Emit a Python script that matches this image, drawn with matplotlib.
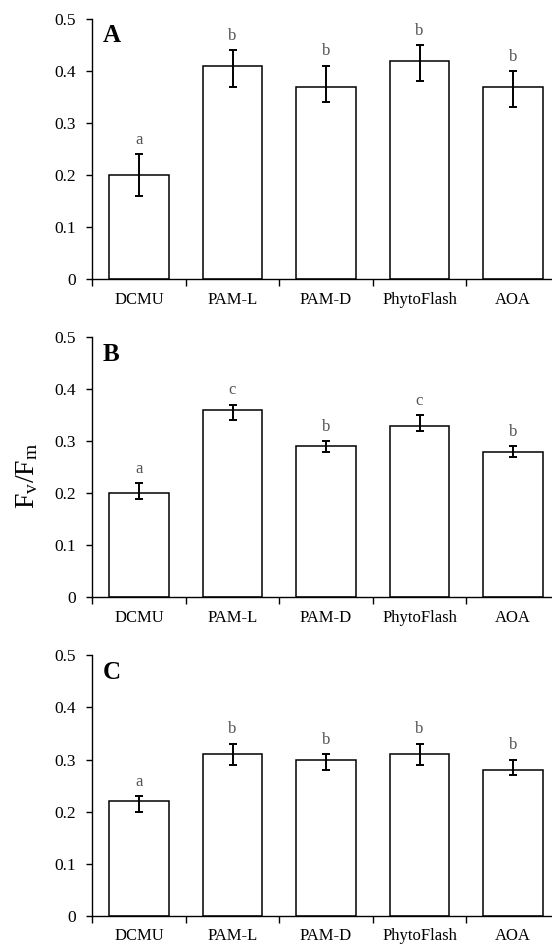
import numpy as np
import matplotlib
matplotlib.use("Agg")
import matplotlib.pyplot as plt

plt.rcParams['font.family'] = ['Liberation Serif', 'DejaVu Serif']
plt.rcParams['mathtext.fontset'] = 'custom'
plt.rcParams['mathtext.rm'] = 'Liberation Serif'

# ── Data ──────────────────────────────────────────────────────────────────────
categories = ['DCMU', 'PAM-L', 'PAM-D', 'PhytoFlash', 'AOA']
panel_ids  = ['A', 'B', 'C']

fvfm_A   = [0.20, 0.41, 0.37, 0.42, 0.37]
err_lo_A = [0.04, 0.04, 0.03, 0.04, 0.04]
err_hi_A = [0.04, 0.03, 0.04, 0.03, 0.03]
sig_A    = ['a', 'b', 'b', 'b', 'b']

fvfm_B   = [0.20, 0.36, 0.29, 0.33, 0.28]
err_lo_B = [0.01, 0.02, 0.01, 0.01, 0.01]
err_hi_B = [0.02, 0.01, 0.01, 0.02, 0.01]
sig_B    = ['a', 'c', 'b', 'c', 'b']

fvfm_C   = [0.22, 0.31, 0.30, 0.31, 0.28]
err_lo_C = [0.02, 0.02, 0.02, 0.02, 0.01]
err_hi_C = [0.01, 0.02, 0.01, 0.02, 0.02]
sig_C    = ['a', 'b', 'b', 'b', 'b']

values  = [fvfm_A, fvfm_B, fvfm_C]
err_lo  = [err_lo_A, err_lo_B, err_lo_C]
err_hi  = [err_hi_A, err_hi_B, err_hi_C]
letters = [sig_A, sig_B, sig_C]

# ── Figure layout ─────────────────────────────────────────────────────────────
fig = plt.figure(figsize=(5.52, 9.46), dpi=100)

left, width, height = 0.1672, 0.8469, 0.2752
bottoms = [0.7048, 0.3684, 0.0320]

x = np.arange(len(categories))

for i in range(3):
    ax = fig.add_axes([left, bottoms[i], width, height])
    vals = np.array(values[i])
    lo = np.array(err_lo[i])
    hi = np.array(err_hi[i])

    ax.bar(x, vals, width=0.64, color='white', edgecolor='black', linewidth=1.1, zorder=2)
    ax.errorbar(x, vals, yerr=[lo, hi], fmt='none', ecolor='black',
                elinewidth=1.4, capsize=3.2, capthick=1.4, zorder=3)

    for xi, top, lab in zip(x, vals + hi, letters[i]):
        ax.annotate(lab, (xi, top), xytext=(0, 7.5), textcoords='offset points',
                    ha='center', va='baseline', fontsize=12, color='#555555')

    ax.text(0.023, 0.91, panel_ids[i], transform=ax.transAxes, fontsize=18,
            fontweight='bold', ha='left', va='baseline')

    ax.set_xlim(-0.5, len(categories) - 0.5)
    ax.set_ylim(0, 0.5)
    ax.set_yticks([0, 0.1, 0.2, 0.3, 0.4, 0.5])
    ax.set_yticklabels(['0', '0.1', '0.2', '0.3', '0.4', '0.5'])

    # labels centred on bars, tick marks on category boundaries
    ax.set_xticks(x)
    ax.set_xticklabels(categories)
    ax.set_xticks(np.arange(len(categories) + 1) - 0.5, minor=True)
    ax.tick_params(axis='x', which='major', length=0, pad=9, labelsize=12)
    ax.tick_params(axis='x', which='minor', length=5, width=1, direction='out')
    ax.tick_params(axis='y', length=4, width=1, pad=8, labelsize=12.5)

    for s in ['top', 'right']:
        ax.spines[s].set_visible(False)
    for s in ['left', 'bottom']:
        ax.spines[s].set_linewidth(1)

fig.text(27 / 552, 1 - 476 / 946, r'$\mathregular{F_v/F_m}$', rotation=90,
         ha='center', va='center', fontsize=20)

fig.savefig('out.png', dpi=100)
